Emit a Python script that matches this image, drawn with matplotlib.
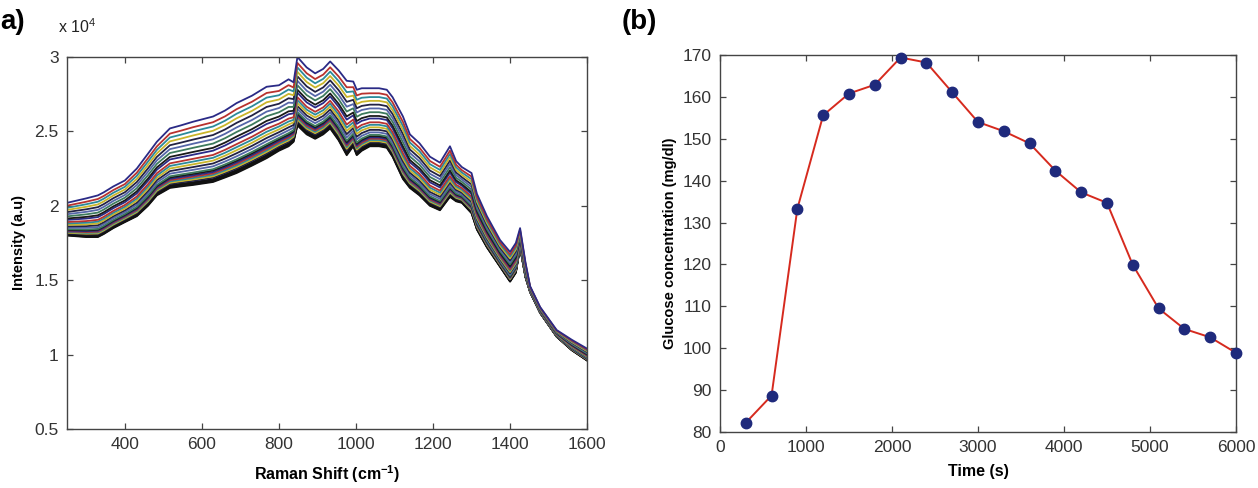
"""Raman spectra (a) and glucose concentration over time (b)."""
import matplotlib
matplotlib.use("Agg")
import matplotlib.pyplot as plt
import numpy as np

plt.rcParams.update({
    "font.family": ["Liberation Sans", "DejaVu Sans"],
    "mathtext.fontset": "custom",
    "mathtext.rm": "Liberation Sans",
    "mathtext.bf": "Liberation Sans:bold",
    "axes.linewidth": 1.0,
})

# ---- panel (a): Raman spectra, intensity in units of 1e4 ----
wavenumber = [250, 300, 330, 345, 370, 400, 431, 460, 483, 517, 545, 577, 629, 660,
              690, 730, 768, 800, 825, 838, 848, 872, 894, 915, 933, 955, 976, 993,
              1002, 1015, 1036, 1060, 1080, 1095, 1122, 1140, 1165, 1192, 1218, 1244,
              1260, 1275, 1300, 1314, 1340, 1374, 1400, 1415, 1426, 1440, 1452, 1478,
              1521, 1560, 1600]
top_spectrum = [2.02, 2.05, 2.07, 2.09, 2.13, 2.17, 2.25, 2.35, 2.43, 2.52, 2.54, 2.565,
                2.60, 2.64, 2.69, 2.74, 2.80, 2.81, 2.85, 2.83, 3.00, 2.93, 2.89, 2.92,
                2.97, 2.91, 2.84, 2.835, 2.78, 2.79, 2.79, 2.79, 2.78, 2.73, 2.60, 2.48,
                2.42, 2.33, 2.29, 2.40, 2.30, 2.26, 2.22, 2.08, 1.93, 1.77, 1.69, 1.75,
                1.85, 1.62, 1.46, 1.32, 1.165, 1.10, 1.04]
bottom_spectrum = [1.80, 1.79, 1.79, 1.81, 1.85, 1.89, 1.93, 2.00, 2.07, 2.12, 2.13, 2.14,
                   2.16, 2.19, 2.22, 2.27, 2.32, 2.37, 2.40, 2.43, 2.54, 2.48, 2.45, 2.48,
                   2.52, 2.44, 2.34, 2.40, 2.34, 2.37, 2.40, 2.40, 2.39, 2.33, 2.18, 2.12,
                   2.07, 2.00, 1.97, 2.06, 2.03, 2.02, 1.95, 1.84, 1.72, 1.59, 1.49, 1.55,
                   1.72, 1.52, 1.42, 1.28, 1.12, 1.03, 0.96]
# intensity of each spectrum at the 850 cm-1 peak, top spectrum first
peak_levels = [3.00, 2.96, 2.93, 2.90, 2.87, 2.84, 2.81, 2.78, 2.76, 2.73, 2.71, 2.69,
               2.67, 2.65, 2.63, 2.62, 2.61, 2.60, 2.59, 2.58, 2.57, 2.56, 2.555, 2.55,
               2.545, 2.54]
line_colors = ["#2a2a86", "#b8322e", "#2b8a9a", "#c9b52a", "#222244", "#5566a8",
               "#3d7a5c", "#1a1a1a"]

# ---- panel (b): glucose concentration ----
time_s = [300, 600, 900, 1200, 1500, 1800, 2100, 2400, 2700, 3000, 3300, 3600, 3900,
          4200, 4500, 4800, 5100, 5400, 5700, 6000]
glucose = [82.2, 88.7, 133.3, 155.6, 160.8, 162.9, 169.4, 168.2, 161.1, 154.0, 151.8,
           148.9, 142.4, 137.2, 134.7, 119.9, 109.5, 104.6, 102.6, 98.9]

TICK_COLOR = "#333333"

fig = plt.figure(figsize=(12.58, 4.88), dpi=100)
ax1 = fig.add_axes([0.0533, 0.1209, 0.4134, 0.7623])
ax2 = fig.add_axes([0.5723, 0.1148, 0.4102, 0.7725])

wn = np.array(wavenumber)
top = np.array(top_spectrum)
bot = np.array(bottom_spectrum)
lo, hi = min(peak_levels), max(peak_levels)
n = len(peak_levels)
for i in range(n - 1, -1, -1):
    frac = (peak_levels[i] - lo) / (hi - lo)
    spec = bot + frac * (top - bot)
    color = line_colors[i % len(line_colors)] if i < n - 5 else "#111111"
    ax1.plot(wn, spec, color=color, lw=1.3)
ax1.set_xlim(250, 1600)
ax1.set_ylim(0.5, 3)
ax1.set_xticks([400, 600, 800, 1000, 1200, 1400, 1600])
ax1.set_yticks([0.5, 1, 1.5, 2, 2.5, 3])
ax1.set_yticklabels(["0.5", "1", "1.5", "2", "2.5", "3"])
ax1.set_xlabel(r"Raman Shift (cm$^{\mathbf{-1}}$)", fontsize=11.5, fontweight="bold",
               labelpad=8)
ax1.set_ylabel("Intensity (a.u)", fontsize=10.5, fontweight="bold", labelpad=6)

ax2.plot(time_s, glucose, color="#d62a1e", lw=1.4, zorder=2)
ax2.plot(time_s, glucose, "o", color="#1f2a7c", markersize=7.5, zorder=3, clip_on=False)
ax2.set_xlim(0, 6000)
ax2.set_ylim(80, 170)
ax2.set_xticks(range(0, 6001, 1000))
ax2.set_yticks(range(80, 171, 10))
ax2.set_xlabel("Time (s)", fontsize=11.5, fontweight="bold", labelpad=6)
ax2.set_ylabel("Glucose concentration (mg/dl)", fontsize=10.5, fontweight="bold",
               labelpad=4)

for ax in (ax1, ax2):
    ax.tick_params(direction="in", length=4, width=0.9, top=True, right=True,
                   labelsize=12.5, labelcolor=TICK_COLOR, color="#444444", pad=6)
    for sp in ax.spines.values():
        sp.set_color("#444444")

fig.text(0.0, 0.955, "a)", fontsize=20, fontweight="bold", va="center", ha="left")
fig.text(0.0465, 0.945, r"x 10$^{4}$", fontsize=11.5, va="center", ha="left",
         color="#222222")
fig.text(0.494, 0.955, "(b)", fontsize=20, fontweight="bold", va="center", ha="left")

fig.savefig("out.png", dpi=100)
